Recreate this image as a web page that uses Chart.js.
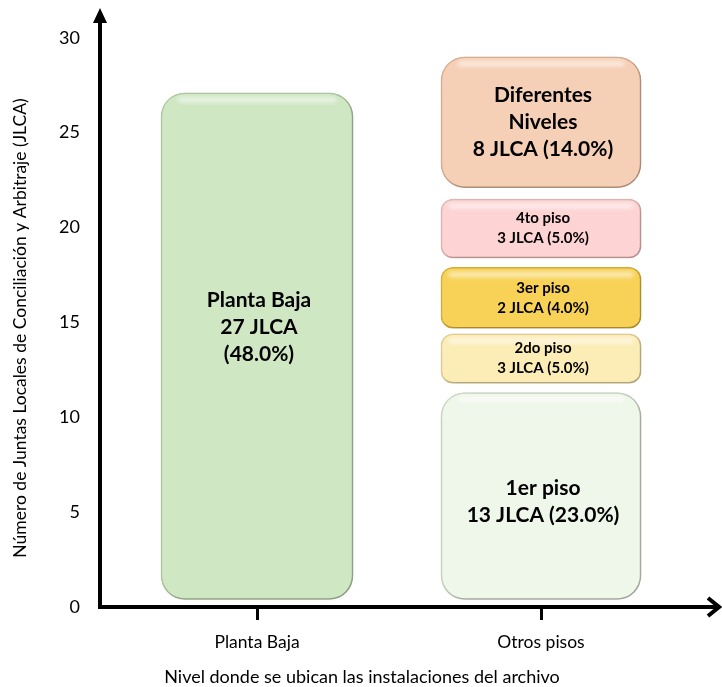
<!DOCTYPE html>
<html>
<head>
<meta charset="utf-8">
<script src="https://cdn.jsdelivr.net/npm/chart.js@4.4.1/dist/chart.umd.min.js"></script>
<style>
  html, body { margin: 0; padding: 0; background: #fff; }
  #wrap { position: relative; width: 722px; height: 687px; }
</style>
</head>
<body>
<div id="wrap"><canvas id="chart"></canvas></div>
<script>
const categories = ["Planta Baja", "Otros pisos"];

const segmentNames = ["Planta Baja", "1er piso", "2do piso", "3er piso", "4to piso", "Diferentes Niveles"];
const segmentCategory = [0, 1, 1, 1, 1, 1];
const segmentStart = [0.4, 0.4, 11.8, 14.7, 18.4, 22.1];
const segmentEnd = [27.1, 11.3, 14.4, 17.9, 21.5, 29.0];
const segmentLabels = [
  ["Planta Baja", "27 JLCA", "(48.0%)"],
  ["1er piso", "13 JLCA (23.0%)"],
  ["2do piso", "3 JLCA (5.0%)"],
  ["3er piso", "2 JLCA (4.0%)"],
  ["4to piso", "3 JLCA (5.0%)"],
  ["Diferentes", "Niveles", "8 JLCA (14.0%)"],
];
const segmentColors = ["#cfe7c3", "#eff6ea", "#fcecb6", "#f7d257", "#fdd3d3", "#f6d0b6"];
const segmentEdges = ["#b3cfa5", "#cfdcc6", "#e8d497", "#ddb53a", "#ebb9b9", "#deb598"];

const yTicks = [0, 5, 10, 15, 20, 25, 30];

const FONT = "Lato, 'Open Sans', sans-serif";

const datasets = segmentNames.map((name, i) => {
  const data = categories.map((c, ci) => (ci === segmentCategory[i] ? [segmentStart[i], segmentEnd[i]] : null));
  const big = segmentEnd[i] - segmentStart[i] > 5;
  return {
    label: name,
    data: data,
    backgroundColor: segmentColors[i],
    borderColor: segmentEdges[i],
    borderWidth: 1.5,
    borderSkipped: false,
    borderRadius: big ? 24 : 12,
    barThickness: segmentCategory[i] === 0 ? 192 : 200,
    grouped: false,
  };
});

const shadowPlugin = {
  id: "shadow",
  beforeDatasetsDraw(chart) {
    const ctx = chart.ctx;
    ctx.save();
    ctx.shadowColor = "rgba(0,0,0,0.3)";
    ctx.shadowBlur = 7;
    ctx.shadowOffsetX = 3;
    ctx.shadowOffsetY = 3;
  },
  afterDatasetsDraw(chart) {
    chart.ctx.restore();
  },
};

// soft highlight along the top inner edge, like the bevel in the original
const bevelPlugin = {
  id: "bevel",
  afterDatasetsDraw(chart) {
    const ctx = chart.ctx;
    ctx.save();
    ctx.filter = "blur(2px)";
    chart.data.datasets.forEach((ds, i) => {
      const el = chart.getDatasetMeta(i).data[segmentCategory[i]];
      const half = el.width / 2;
      const top = Math.min(el.y, el.base);
      const r = ds.borderRadius;
      ctx.strokeStyle = "rgba(255,255,255,0.6)";
      ctx.lineWidth = 5;
      ctx.lineCap = "round";
      ctx.beginPath();
      ctx.moveTo(el.x - half + r * 0.8, top + 7);
      ctx.lineTo(el.x + half - r * 0.8, top + 7);
      ctx.stroke();
    });
    ctx.restore();
  },
};

const labelPlugin = {
  id: "boxLabels",
  afterDraw(chart) {
    const ctx = chart.ctx;
    ctx.save();
    ctx.fillStyle = "#000";
    ctx.textAlign = "center";
    ctx.textBaseline = "middle";
    chart.data.datasets.forEach((ds, i) => {
      const el = chart.getDatasetMeta(i).data[segmentCategory[i]];
      const lines = segmentLabels[i];
      const big = segmentEnd[i] - segmentStart[i] > 5;
      const size = big ? 21 : 15;
      const lh = big ? 27 : 20;
      ctx.font = "bold " + size + "px " + FONT;
      let cy = (el.y + el.base) / 2;
      if (i === 0) cy -= 19;
      if (i === 1) cy += 6;
      const y0 = cy - ((lines.length - 1) * lh) / 2;
      lines.forEach((t, k) => ctx.fillText(t, el.x + 2, y0 + k * lh));
    });
    ctx.restore();
  },
};

const axesPlugin = {
  id: "arrowAxes",
  afterDraw(chart) {
    const ctx = chart.ctx;
    const y0 = chart.scales.y.getPixelForValue(0);
    const ax = 100;
    ctx.save();
    ctx.strokeStyle = "#000";
    ctx.fillStyle = "#000";
    ctx.lineWidth = 4;
    // y axis
    ctx.beginPath();
    ctx.moveTo(ax, y0 + 2);
    ctx.lineTo(ax, 20);
    ctx.stroke();
    ctx.beginPath();
    ctx.moveTo(ax, 8);
    ctx.lineTo(ax - 7, 23);
    ctx.lineTo(ax + 7, 23);
    ctx.closePath();
    ctx.fill();
    // x axis
    ctx.beginPath();
    ctx.moveTo(ax - 2, y0);
    ctx.lineTo(718, y0);
    ctx.stroke();
    ctx.beginPath();
    ctx.moveTo(708, y0 - 9);
    ctx.lineTo(719, y0);
    ctx.lineTo(708, y0 + 9);
    ctx.stroke();
    // titles
    ctx.font = "18px " + FONT;
    ctx.textAlign = "center";
    ctx.textBaseline = "middle";
    ctx.fillText("Nivel donde se ubican las instalaciones del archivo", 362, 677);
    ctx.font = "17.5px " + FONT;
    ctx.translate(20, 328);
    ctx.rotate(-Math.PI / 2);
    ctx.fillText("Número de Juntas Locales de Conciliación y Arbitraje (JLCA)", 0, 0);
    ctx.restore();
  },
};

new Chart(document.getElementById("chart"), {
  type: "bar",
  data: { labels: categories, datasets: datasets },
  plugins: [shadowPlugin, bevelPlugin, labelPlugin, axesPlugin],
  options: {
    responsive: true,
    maintainAspectRatio: false,
    animation: false,
    layout: { padding: { top: 28, right: 39, left: 0, bottom: 0 } },
    plugins: { legend: { display: false }, tooltip: { enabled: false } },
    scales: {
      x: {
        grid: {
          display: true,
          drawOnChartArea: false,
          drawTicks: true,
          tickLength: 13,
          offset: false,
          color: "#000",
          lineWidth: 3,
        },
        border: { display: false },
        ticks: { color: "#000", font: { family: FONT, size: 17.5 }, padding: 12 },
        afterFit(scale) { scale.height = 80; },
      },
      y: {
        min: 0,
        max: 30,
        grid: { display: false },
        border: { display: false },
        afterBuildTicks(scale) { scale.ticks = yTicks.map((v) => ({ value: v })); },
        ticks: { color: "#000", font: { family: FONT, size: 18 }, padding: 27 },
        afterFit(scale) { scale.width = 115; },
      },
    },
  },
});
</script>
</body>
</html>
